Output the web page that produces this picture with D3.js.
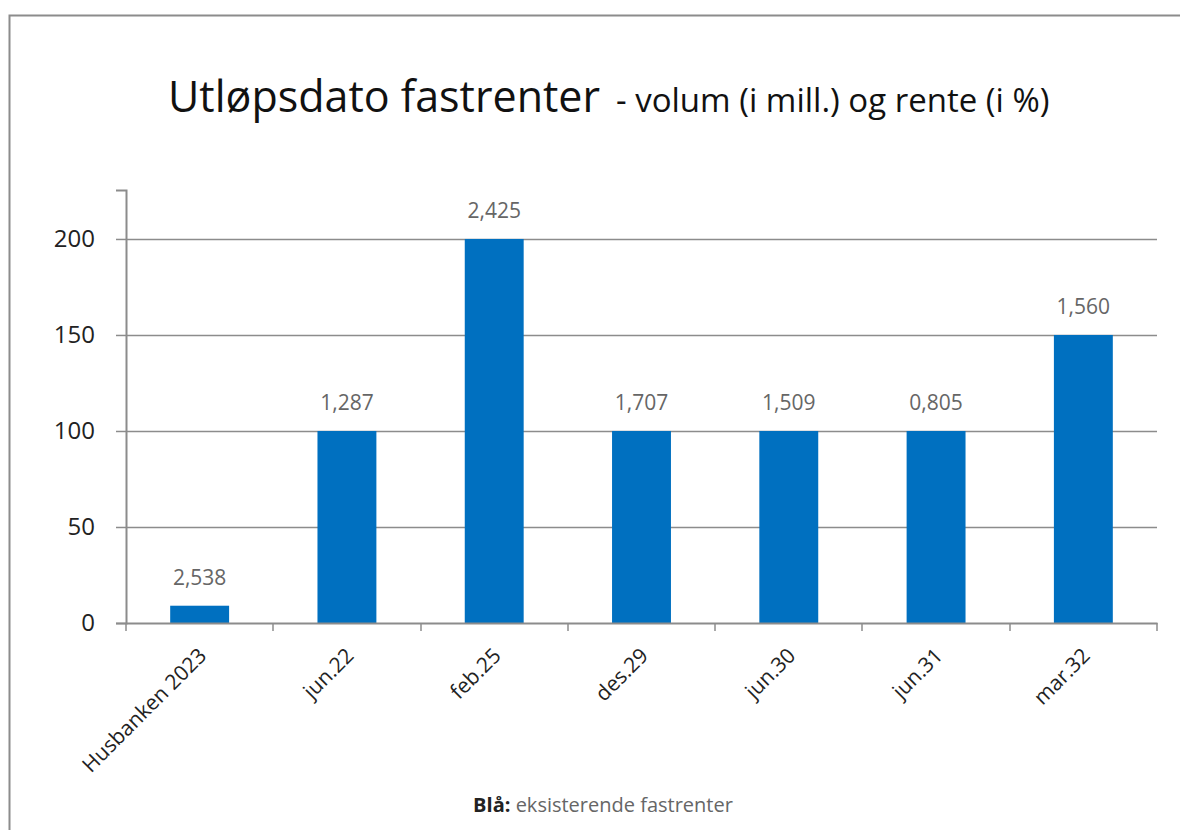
<!DOCTYPE html>
<html>
<head>
<meta charset="utf-8">
<script src="https://cdn.jsdelivr.net/npm/d3@7"></script>
<style>
body { margin: 0; background: #fff; }
text { font-family: "Open Sans", "Noto Sans", sans-serif; }
</style>
</head>
<body>
<script>
var w = 1180;
var h = 830;

var categories = ["Husbanken 2023", "jun.22", "feb.25", "des.29", "jun.30", "jun.31", "mar.32"];
var volumes = [9, 100, 200, 100, 100, 100, 150];
var rates = ["2,538", "1,287", "2,425", "1,707", "1,509", "0,805", "1,560"];
var yTicks = [0, 50, 100, 150, 200];

var plotL = 126, plotR = 1157, plotT = 190, plotB = 623;

var svg = d3.select("body")
    .append("svg")
    .attr("width", w)
    .attr("height", h);

// frame round the chart (only top and left are in view)
svg.append("path")
    .attr("d", "M9.5," + h + " V15.5 H" + w)
    .attr("fill", "none")
    .attr("stroke", "#8c8c8c")
    .attr("stroke-width", 2);

var x = d3.scaleBand()
    .domain(categories)
    .range([plotL, plotR]);

var y = d3.scaleLinear()
    .domain([0, 225.5])
    .range([plotB, plotT]);

// gridlines
svg.selectAll(".grid")
    .data(yTicks.filter(function(d) { return d > 0; }))
    .enter().append("line")
    .attr("x1", plotL)
    .attr("x2", plotR)
    .attr("y1", function(d) { return Math.round(y(d)) + 0.5; })
    .attr("y2", function(d) { return Math.round(y(d)) + 0.5; })
    .attr("stroke", "#8c8c8c")
    .attr("stroke-width", 1.5);

// bars
var barW = x.bandwidth() * 0.4;
svg.selectAll(".bar")
    .data(volumes)
    .enter().append("rect")
    .attr("x", function(d, i) { return x(categories[i]) + (x.bandwidth() - barW) / 2; })
    .attr("y", function(d) { return y(d); })
    .attr("width", barW)
    .attr("height", function(d) { return y(0) - y(d); })
    .attr("fill", "#0070c0");

// rate labels above bars
svg.selectAll(".lbl")
    .data(volumes)
    .enter().append("text")
    .attr("x", function(d, i) { return x(categories[i]) + x.bandwidth() / 2; })
    .attr("y", function(d) { return y(d) - 21; })
    .attr("text-anchor", "middle")
    .attr("fill", "#666")
    .style("font-size", "21px")
    .text(function(d, i) { return rates[i]; });

// y axis
var yAxis = d3.axisLeft(y)
    .tickValues(yTicks)
    .tickSize(10)
    .tickPadding(21);
var gy = svg.append("g")
    .attr("transform", "translate(" + plotL + ",0)")
    .call(yAxis);
gy.select(".domain").attr("stroke", "#8c8c8c").attr("stroke-width", 2);
gy.selectAll(".tick line").attr("stroke", "#8c8c8c").attr("stroke-width", 1.5);
gy.selectAll(".tick text")
    .attr("fill", "#222")
    .style("font-size", "24px")
    .style("font-family", "'Open Sans', sans-serif");

// x axis
var xAxis = d3.axisBottom(x).tickSize(0).tickPadding(0);
var gx = svg.append("g")
    .attr("transform", "translate(0," + plotB + ")")
    .call(xAxis);
gx.select(".domain").attr("stroke", "#8c8c8c").attr("stroke-width", 2);
gx.selectAll(".tick text")
    .attr("fill", "#222")
    .style("font-size", "21px")
    .style("font-family", "'Open Sans', sans-serif")
    .attr("text-anchor", "end")
    .attr("dy", null)
    .attr("y", 0)
    .attr("transform", "translate(8,34) rotate(-45)");

// boundary ticks between categories
var bounds = categories.map(function(c) { return x(c); }).concat([plotR]);
svg.selectAll(".btick")
    .data(bounds)
    .enter().append("line")
    .attr("x1", function(d) { return Math.round(d); })
    .attr("x2", function(d) { return Math.round(d); })
    .attr("y1", plotB)
    .attr("y2", plotB + 8)
    .attr("stroke", "#8c8c8c")
    .attr("stroke-width", 1.5);

// title
svg.append("text")
    .attr("x", 168)
    .attr("y", 112)
    .attr("fill", "#111")
    .style("font-size", "43px")
    .text("Utløpsdato fastrenter");
svg.append("text")
    .attr("x", 616)
    .attr("y", 112)
    .attr("fill", "#111")
    .style("font-size", "33px")
    .text("- volum (i mill.) og rente (i %)");

// note at the bottom
var note = svg.append("text")
    .attr("x", 603)
    .attr("y", 812)
    .attr("text-anchor", "middle")
    .style("font-size", "20px");
note.append("tspan").attr("fill", "#222").style("font-weight", "bold").text("Blå: ");
note.append("tspan").attr("fill", "#666").text("eksisterende fastrenter");
</script>
</body>
</html>
